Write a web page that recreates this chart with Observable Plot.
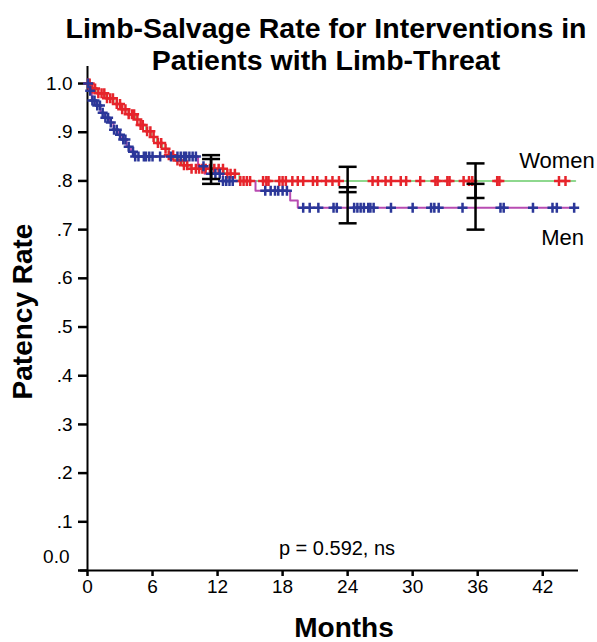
<!DOCTYPE html>
<html><head><meta charset="utf-8">
<script src="https://cdn.jsdelivr.net/npm/d3@7"></script>
<script src="https://cdn.jsdelivr.net/npm/@observablehq/plot@0.6"></script>
<style>
html,body{margin:0;padding:0;background:#fff;overflow:hidden;}
#wrap{position:relative;width:597px;height:642px;overflow:hidden;}
#title{position:absolute;left:55px;top:12px;width:542px;text-align:center;font:bold 28.5px "Liberation Sans",Arial,sans-serif;line-height:32px;white-space:nowrap;z-index:2;color:#000;}
#chart svg [aria-label="y-axis tick"] path, #chart svg [aria-label="x-axis tick"] path, #chart svg .tick line {stroke-width:2.5px;}
</style></head><body>
<div id="wrap"><div id="title">Limb-Salvage Rate for Interventions in<br>Patients with Limb-Threat</div><div id="chart"></div></div>
<script>
// ---- data ----
const xTicks = [0, 6, 12, 18, 24, 30, 36, 42];
const yTicks = [0, 0.1, 0.2, 0.3, 0.4, 0.5, 0.6, 0.7, 0.8, 0.9, 1.0];
const groups = ["Women", "Men"];
const followUpEnd = 45;

const womenStepTimes  = [0, 0.3, 0.9, 1.6, 2.4, 3.1, 3.8, 4.4, 4.9, 5.4, 5.9, 6.4, 6.9, 7.5, 8.1, 8.7, 9.5, 12.6, 14.0];
const womenStepValues = [1.0, 0.99, 0.98, 0.97, 0.958, 0.947, 0.937, 0.926, 0.915, 0.902, 0.89, 0.878, 0.866, 0.853, 0.842, 0.832, 0.825, 0.815, 0.80];
const menStepTimes    = [0, 0.2, 0.4, 0.8, 1.2, 1.6, 2.0, 2.4, 2.8, 3.2, 3.6, 4.0, 4.3, 10.2, 10.8, 12.5, 15.5, 18.7, 19.4];
const menStepValues   = [1.0, 0.985, 0.965, 0.955, 0.94, 0.93, 0.92, 0.905, 0.895, 0.885, 0.87, 0.86, 0.85, 0.83, 0.815, 0.80, 0.78, 0.76, 0.745];

const womenCensorTimes = [0.05, 0.2, 0.45, 0.7, 1.0, 1.3, 1.55, 1.8, 2.1, 2.35, 2.7, 3.0, 3.2, 3.5, 3.8, 4.1, 4.3, 4.6, 4.9, 5.1, 5.5, 5.8, 6.1, 6.5, 6.8, 7.2, 7.5, 7.9, 8.3, 8.6, 8.9, 9.2, 9.6, 10.0, 10.3, 10.6, 10.9, 11.3, 11.7, 12.1, 12.5, 12.9, 13.2, 13.6,
  14.1, 14.4, 14.7, 15.0, 16.2, 16.5, 16.7, 17.7, 18.0, 18.3, 18.9, 19.4, 19.9, 20.8, 21.2, 22.0, 22.6, 23.2, 26.3, 26.8, 27.5, 28.0, 28.9, 29.4, 30.7, 32.1, 32.3, 33.2, 33.4, 34.7, 35.2, 35.5, 37.8, 38.0, 43.5, 44.1];
const menCensorTimes = [0.05, 0.25, 0.45, 0.65, 0.9, 1.15, 1.4, 1.65, 1.9, 2.15, 2.45, 2.7, 3.0, 3.3, 3.5, 3.8, 4.2, 4.4, 4.7, 5.2, 5.4, 5.7, 6.0, 6.7, 7.7, 8.3, 8.6, 8.9, 9.1, 9.4, 9.7, 10.0, 10.7, 11.4, 11.8, 12.2, 12.5, 12.8, 13.1, 13.4,
  16.4, 16.9, 17.3, 17.6, 18.0, 18.4, 19.9, 20.5, 21.3, 22.7, 23.0, 24.6, 24.9, 25.2, 25.5, 25.9, 26.1, 26.4, 28.0, 30.0, 31.7, 32.0, 32.4, 34.6, 38.1, 38.4, 41.1, 42.9, 43.3, 44.9];

const barTimes   = [11.4, 24, 35.8];
const womenLower = [0.804, 0.777, 0.765];
const womenUpper = [0.845, 0.829, 0.836];
const menLower   = [0.794, 0.713, 0.700];
const menUpper   = [0.853, 0.787, 0.794];

const pValueText = "p = 0.592, ns";
const xLabel = "Months";
const yLabel = "Patency Rate";

// ---- build tables ----
const RED = "#e6242b", BLUE = "#2b3799", GREEN = "#8ed88e", MAGENTA = "#b84cb2";
function curve(times, values) {
  const pts = times.map((t, i) => ({t, v: values[i]}));
  pts.push({t: followUpEnd, v: values[values.length - 1]});
  return pts;
}
function survAt(times, values, t) {
  let v = values[0];
  for (let i = 0; i < times.length; i++) if (times[i] <= t) v = values[i];
  return v;
}
const women = curve(womenStepTimes, womenStepValues);
const men = curve(menStepTimes, menStepValues);
const womenCens = womenCensorTimes.map(t => ({t, v: survAt(womenStepTimes, womenStepValues, t)}));
const menCens = menCensorTimes.map(t => ({t, v: survAt(menStepTimes, menStepValues, t)}));
const bars = barTimes.flatMap((t, i) => [
  {t, lo: womenLower[i], hi: womenUpper[i]},
  {t, lo: menLower[i], hi: menUpper[i]}
]);
const caps = bars.flatMap(b => [{t: b.t, v: b.lo}, {t: b.t, v: b.hi}]);

const plusSym = {draw(ctx) { ctx.moveTo(-5, 0); ctx.lineTo(5, 0); ctx.moveTo(0, -5); ctx.lineTo(0, 5); }};
const capSym  = {draw(ctx) { ctx.moveTo(-9, 0); ctx.lineTo(9, 0); }};

const fmtY = d => d === 0 ? "" : d === 1 ? "1.0" : d.toFixed(1).slice(1);

const chart = Plot.plot({
  width: 597, height: 642,
  marginLeft: 87, marginRight: 19, marginTop: 66, marginBottom: 72,
  style: {fontSize: "19px", fontFamily: "'Liberation Sans', Arial, sans-serif", color: "#000", background: "transparent"},
  x: {domain: [0, 45.3], ticks: xTicks, tickSize: 6, tickPadding: 3, tickFormat: d => String(d), label: null},
  y: {domain: [0, 1.035], ticks: yTicks, tickSize: 9, tickPadding: 6, tickFormat: fmtY, label: null},
  marks: [
    Plot.ruleY([0], {stroke: "#000", strokeWidth: 2, insetLeft: -7}),
    Plot.ruleX([0], {stroke: "#000", strokeWidth: 2}),
    Plot.text([yTicks[0]], {x: 0, y: d => d, text: d => d.toFixed(1), textAnchor: "end", dx: -18, dy: -14, fontSize: 19}),
    Plot.line(women, {x: "t", y: "v", curve: "step-after", stroke: GREEN, strokeWidth: 2}),
    Plot.line(men, {x: "t", y: "v", curve: "step-after", stroke: MAGENTA, strokeWidth: 2}),
    Plot.dot(womenCens, {x: "t", y: "v", symbol: plusSym, fill: "none", stroke: RED, strokeWidth: 2.5}),
    Plot.dot(menCens, {x: "t", y: "v", symbol: plusSym, fill: "none", stroke: BLUE, strokeWidth: 2.5}),
    Plot.ruleX(bars, {x: "t", y1: "lo", y2: "hi", stroke: "#000", strokeWidth: 2.5}),
    Plot.dot(caps, {x: "t", y: "v", symbol: capSym, fill: "none", stroke: "#000", strokeWidth: 2.5}),
    Plot.text([women[women.length - 1]], {x: "t", y: "v", text: () => groups[0], textAnchor: "start", dx: -56, dy: -20, fontSize: 22}),
    Plot.text([men[men.length - 1]], {x: "t", y: "v", text: () => groups[1], textAnchor: "start", dx: -34, dy: 30, fontSize: 22}),
    Plot.text([pValueText], {frameAnchor: "bottom", textAnchor: "middle", lineAnchor: "middle", dx: 4, dy: -22, fontSize: 20}),
    Plot.text([xLabel], {frameAnchor: "bottom", textAnchor: "middle", lineAnchor: "middle", dx: 11, dy: 58, fontSize: 28, fontWeight: "bold"}),
    Plot.text([yLabel], {frameAnchor: "left", textAnchor: "middle", lineAnchor: "middle", rotate: -90, dx: -64, dy: -7, fontSize: 28, fontWeight: "bold"})
  ]
});
document.getElementById("chart").appendChild(chart);
</script>
</body></html>
